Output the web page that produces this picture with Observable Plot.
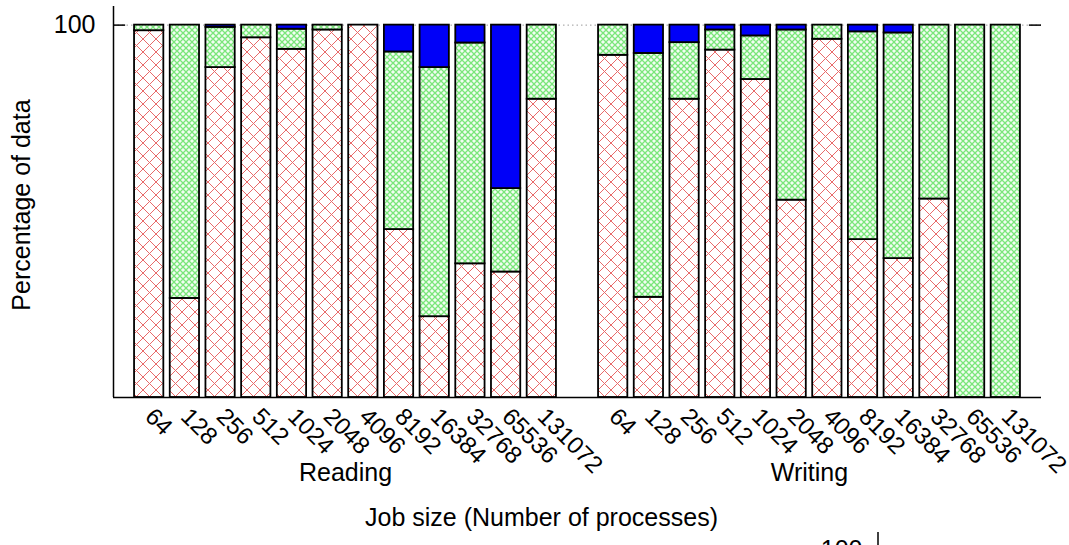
<!DOCTYPE html>
<html><head><meta charset="utf-8">
<script src="https://cdn.jsdelivr.net/npm/d3@7"></script>
<script src="https://cdn.jsdelivr.net/npm/@observablehq/plot@0.6"></script>
<style>
body{margin:0;background:#fff;}
#chart svg{display:block;}
</style>
</head><body><div id="chart"></div>
<script>
// ---- data ----
const jobSizes = ["64","128","256","512","1024","2048","4096","8192","16384","32768","65536","131072"];
const groupNames = ["Reading","Writing"];
const seriesNames = ["part1","part2","part3"];
const readingRed   = [98.5, 26.6, 88.6, 96.6, 93.5, 98.7, 100, 45.1, 21.7, 35.9, 33.7, 80.1];
const readingGreen = [1.5, 73.4, 10.8, 3.4, 5.4, 1.3, 0, 47.7, 66.9, 59.3, 22.4, 19.9];
const readingBlue  = [0, 0, 0.6, 0, 1.1, 0, 0, 7.2, 11.4, 4.8, 43.9, 0];
const writingRed   = [91.9, 26.9, 80.1, 93.3, 85.4, 53.0, 96.2, 42.4, 37.3, 53.3, 0, 0];
const writingGreen = [8.1, 65.5, 15.2, 5.4, 11.7, 45.7, 3.8, 55.8, 60.6, 46.7, 100, 100];
const writingBlue  = [0, 7.6, 4.7, 1.3, 2.9, 1.3, 0, 1.8, 2.1, 0, 0, 0];
const yTicks = [100];
const yLabel = "Percentage of data";
const xLabel = "Job size (Number of processes)";
const fragmentLabel = "100";

// ---- build table ----
const n = jobSizes.length;
const groupSeries = [
  [readingRed, readingGreen, readingBlue],
  [writingRed, writingGreen, writingBlue]
];
const rows = [];
const tickSlots = [];
const slotLabel = new Map();
groupSeries.forEach((series, gi) => {
  jobSizes.forEach((size, i) => {
    const slot = gi * (n + 1) + i;
    tickSlots.push(slot);
    slotLabel.set(slot, size);
    let cum = 0;
    series.forEach((vals, si) => {
      const v = vals[i];
      if (v > 0) rows.push({slot, series: seriesNames[si], y1: cum, y2: cum + v});
      cum += v;
    });
  });
});
const groups = groupNames.map((name, gi) => ({name, center: gi * (n + 1) + (n - 1) / 2}));
const half = 0.41;
const xMin = -1, xMax = 2 * n + 1;

const font = "'Liberation Sans', Arial, Helvetica, sans-serif";

// small piece of the next figure's axis peeking in at the bottom edge
function fragmentAxis(index, scales, values, dims) {
  const line = document.createElementNS("http://www.w3.org/2000/svg", "line");
  const x = dims.width - 191;
  line.setAttribute("x1", x); line.setAttribute("x2", x);
  line.setAttribute("y1", dims.height - 13); line.setAttribute("y2", dims.height);
  line.setAttribute("stroke", "black"); line.setAttribute("stroke-width", 1.5);
  return line;
}

const svg = Plot.plot({
  width: 1069,
  height: 545,
  marginLeft: 113,
  marginRight: 28,
  marginTop: 6,
  marginBottom: 148,
  style: {fontFamily: font, background: "white", color: "black"},
  x: {type: "linear", domain: [xMin, xMax], axis: null},
  y: {domain: [0, 105], axis: null},
  color: {type: "ordinal", domain: seriesNames, range: ["url(#hatchRed)", "url(#hatchGreen)", "#0000f8"]},
  marks: [
    Plot.ruleY(yTicks, {stroke: "#9a9a9a", strokeDasharray: "1.5,3", strokeWidth: 1}),
    Plot.rect(rows, {x1: d => d.slot - half, x2: d => d.slot + half, y1: "y1", y2: "y2", fill: "series", stroke: "black", strokeWidth: 1.8, inset: 0}),
    Plot.ruleX([xMin], {stroke: "black", strokeWidth: 1.5}),
    Plot.ruleY([0], {stroke: "black", strokeWidth: 1.5}),
    Plot.ruleY(yTicks, {x1: xMin, x2: xMin + 0.34, stroke: "black", strokeWidth: 1.5}),
    Plot.ruleY(yTicks, {x1: xMax - 0.34, x2: xMax, stroke: "black", strokeWidth: 1.5}),
    Plot.axisY({ticks: yTicks, tickSize: 0, tickPadding: 18, fontSize: 25, label: null}),
    Plot.axisX({ticks: tickSlots, tickFormat: s => slotLabel.get(s), tickRotate: 45, tickSize: 0, tickPadding: 15, fontSize: 24, label: null}),
    Plot.text(groups, {x: "center", text: "name", frameAnchor: "bottom", dy: 83, fontSize: 25}),
    Plot.text([yLabel], {frameAnchor: "left", textAnchor: "middle", rotate: -90, dx: -92, dy: 3, fontSize: 25}),
    Plot.text([xLabel], {frameAnchor: "bottom", textAnchor: "middle", dx: -36, dy: 128, fontSize: 25}),
    Plot.text([fragmentLabel], {frameAnchor: "bottom", dx: 285, dy: 160, textAnchor: "end", fontSize: 25}),
    fragmentAxis
  ]
});

const defs = d3.select(svg).insert("defs", ":first-child");
const pr = defs.append("pattern").attr("id", "hatchRed").attr("patternUnits", "userSpaceOnUse").attr("width", 13).attr("height", 13);
pr.append("rect").attr("width", 13).attr("height", 13).attr("fill", "white");
pr.append("path").attr("d", "M-1,-1L14,14M14,-1L-1,14").attr("stroke", "#e86a6a").attr("stroke-width", 1).attr("fill", "none");
const pg = defs.append("pattern").attr("id", "hatchGreen").attr("patternUnits", "userSpaceOnUse").attr("width", 6).attr("height", 6);
pg.append("rect").attr("width", 6).attr("height", 6).attr("fill", "#f2fdf2");
pg.append("path").attr("d", "M-1,-1L7,7M7,-1L-1,7").attr("stroke", "#7ae67a").attr("stroke-width", 1.3).attr("fill", "none");

document.getElementById("chart").appendChild(svg);
</script>
</body></html>
